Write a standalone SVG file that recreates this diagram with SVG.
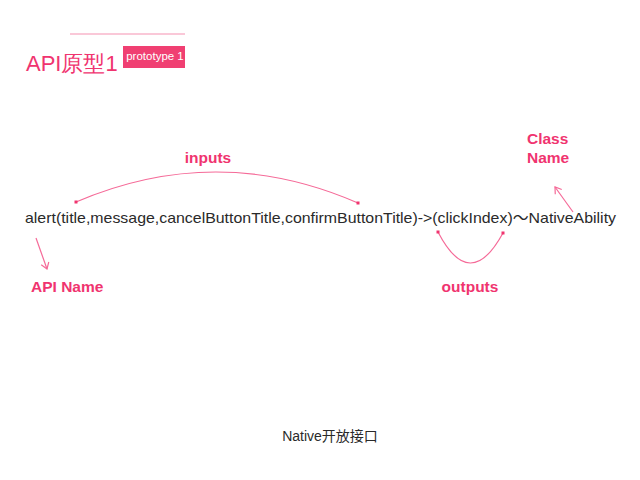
<svg xmlns="http://www.w3.org/2000/svg" width="640" height="480" viewBox="0 0 640 480">
<defs>
<style>
.pink{fill:#f0346f;font-family:"Liberation Sans",Arial,sans-serif;}
.bold{font-weight:bold;font-size:15.5px;}
.line{stroke:#f56a98;stroke-width:1.2;fill:none;}
.dark{fill:#2a2a2a;font-family:"Liberation Sans",Arial,"Noto Sans CJK SC",sans-serif;}
</style>
<marker id="dot" markerWidth="4" markerHeight="4" refX="2" refY="2" markerUnits="userSpaceOnUse">
<rect x="0.5" y="0.5" width="3" height="3" fill="#f0346f"/>
</marker>
<marker id="chev" markerWidth="10" markerHeight="10" refX="8" refY="5" orient="auto" markerUnits="userSpaceOnUse">
<path d="M2,1 L8,5 L2,9" fill="none" stroke="#f56a98" stroke-width="1.2"/>
</marker>
</defs>
<rect width="640" height="480" fill="#fff"/>
<g id="header">
<line x1="70" y1="34" x2="185" y2="34" stroke="#f9b6cb" stroke-width="1.5"/>
<text x="26" y="71" class="pink" font-size="22" font-family="'Liberation Sans','Noto Sans CJK SC',sans-serif">API原型1</text>
<rect x="123" y="46" width="62" height="22" fill="#f03f72"/>
<text x="155" y="60" fill="#fff" font-size="11.5" text-anchor="middle" font-family="'Liberation Sans',Arial,sans-serif">prototype 1</text>
</g>
<g id="signature">
<text x="25" y="223" class="dark" font-size="15" textLength="591" lengthAdjust="spacingAndGlyphs">alert(title,message,cancelButtonTitle,confirmButtonTitle)-&gt;(clickIndex)～NativeAbility</text>
</g>
<g id="inputs-label"><text x="208" y="163" class="pink bold" text-anchor="middle">inputs</text></g>
<g id="class-name-label"><text x="527" y="144" class="pink bold">Class</text><text x="527" y="163" class="pink bold">Name</text></g>
<g id="api-name-label"><text x="31" y="292" class="pink bold">API Name</text></g>
<g id="outputs-label"><text x="470" y="292" class="pink bold" text-anchor="middle">outputs</text></g>
<g id="footer"><text x="330" y="441" class="dark" font-size="14" text-anchor="middle">Native开放接口</text></g>
<g id="connectors">
<path class="line" d="M76,202 Q217,141.5 358,203" marker-start="url(#dot)" marker-end="url(#dot)"/>
<path class="line" d="M438,232 Q470,293.5 503,233" marker-start="url(#dot)" marker-end="url(#dot)"/>
<line class="line" x1="573" y1="212" x2="555" y2="187" marker-end="url(#chev)"/>
<line class="line" x1="36" y1="238" x2="47" y2="269" marker-end="url(#chev)"/>
</g>
</svg>
